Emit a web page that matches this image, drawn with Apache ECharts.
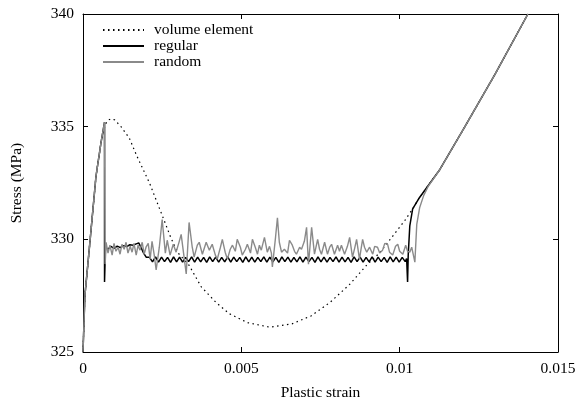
<!DOCTYPE html>
<html>
<head>
<meta charset="utf-8">
<script src="https://cdn.jsdelivr.net/npm/echarts@6/dist/echarts.min.js"></script>
<style>
  html, body { margin: 0; padding: 0; background: #fff; }
  #chart { width: 583px; height: 406px; }
</style>
</head>
<body>
<div id="chart"></div>
<script>
// stress / plastic strain curves
var xTicks = [0, 0.005, 0.01, 0.015];
var yTicks = [325, 330, 335, 340];
var seriesNames = ['volume element', 'regular', 'random'];

// volume element (dotted)
var volumeStrain = [0, 0.00006, 0.00022, 0.00041, 0.00057, 0.0007, 0.0008, 0.0009, 0.001, 0.0012,
  0.00146, 0.0017, 0.0021, 0.00256, 0.00278, 0.0030, 0.00335, 0.00373, 0.0042, 0.00462,
  0.0052, 0.0059, 0.0066, 0.0072, 0.0078, 0.00842, 0.00896, 0.00937, 0.01016, 0.01041, 0.0106];
var volumeStress = [325, 327.5, 329.9, 332.8, 334.3, 335.1, 335.3, 335.35, 335.3, 335.0,
  334.5, 333.7, 332.5, 330.85, 330.05, 329.4, 328.85, 327.9, 327.2, 326.7,
  326.3, 326.1, 326.25, 326.6, 327.2, 328.0, 328.86, 329.4, 330.83, 331.35, 331.8];

// shared elastic rise
var riseStrain = [0, 0.00006, 0.00022, 0.00041, 0.00057, 0.00068];
var riseStress = [325, 327.5, 329.9, 332.8, 334.3, 335.2];

// shared hardening branch
var hardStrain = [0.01127, 0.01206, 0.0130, 0.01405];
var hardStress = [333.1, 335.0, 337.3, 340.0];

// regular: drop, plateau, zigzag, drop, hardening
var regularHeadStrain = [0.00068, 0.00071, 0.00079, 0.00088, 0.00098, 0.00108, 0.00118, 0.00128, 0.00138,
  0.00148, 0.00158, 0.00168, 0.00176, 0.00183, 0.00191, 0.002];
var regularHeadStress = [328.11, 329.65, 329.56, 329.69, 329.6, 329.7, 329.63, 329.72, 329.68,
  329.76, 329.74, 329.8, 329.84, 329.65, 329.4, 329.2];
var zigStart = 0.0021, zigStep = 0.000095;
var regularZig = [
  329.20, 329.00, 329.22, 328.99, 329.21, 329.01, 329.20, 328.98, 329.22, 329.00,
  329.21, 328.99, 329.20, 329.01, 329.22, 328.99, 329.21, 329.00, 329.20, 328.98,
  329.22, 329.01, 329.21, 328.99, 329.20, 329.00, 329.22, 328.99, 329.21, 329.01,
  329.20, 328.98, 329.22, 329.00, 329.21, 328.99, 329.20, 329.01, 329.22, 328.99,
  329.21, 329.00, 329.20, 328.98, 329.22, 329.01, 329.21, 328.99, 329.20, 329.00,
  329.22, 328.99, 329.21, 329.01, 329.20, 328.98, 329.22, 329.00, 329.21, 328.99,
  329.20, 329.01, 329.22, 328.99, 329.21, 329.00, 329.20, 328.98, 329.22, 329.01,
  329.21, 328.99, 329.20, 329.00, 329.22, 328.99, 329.21, 329.01, 329.20, 328.98,
  329.22, 329.00, 329.21, 328.99, 329.20, 329.01];
var regularTailStrain = [0.01022, 0.01025, 0.01027, 0.01032, 0.01041, 0.0106];
var regularTailStress = [329.15, 328.11, 329.3, 330.6, 331.35, 331.8];

// random: noisy plateau
var randomStrain = [0.0007, 0.0007,
  0.00073, 0.00079, 0.00085, 0.00092, 0.00098, 0.00104, 0.00111, 0.00117, 0.00123, 0.0013,
  0.00136, 0.00142, 0.00149, 0.00155, 0.00161, 0.00168, 0.00174, 0.0018, 0.00187, 0.00193,
  0.00199, 0.00206, 0.00212, 0.00218, 0.00225, 0.00231, 0.00241, 0.0025, 0.0026, 0.00266,
  0.00275, 0.00285, 0.00294, 0.00304, 0.0031, 0.0032, 0.00326, 0.00335, 0.00345, 0.00351,
  0.00361, 0.00367, 0.00377, 0.00389, 0.00399, 0.00408, 0.00418, 0.00424, 0.00434, 0.0044,
  0.00449, 0.00456, 0.00465, 0.00472, 0.00481, 0.00487, 0.00497, 0.00503, 0.00513, 0.00519,
  0.00529, 0.00535, 0.00544, 0.00551, 0.00557, 0.00563, 0.00573, 0.00582, 0.00589, 0.00595,
  0.00598, 0.00608, 0.00614, 0.0062, 0.00627, 0.00636, 0.00646, 0.00652, 0.00661, 0.00668,
  0.00674, 0.00684, 0.0069, 0.00699, 0.00706, 0.00712, 0.00722, 0.00731, 0.00741, 0.00747,
  0.00753, 0.00763, 0.00772, 0.00779, 0.00785, 0.00794, 0.00804, 0.0081, 0.00816, 0.00826,
  0.00835, 0.00842, 0.00851, 0.00858, 0.00864, 0.00873, 0.00883, 0.00889, 0.00896, 0.00905,
  0.00915, 0.00921, 0.0093, 0.00937, 0.00946, 0.00953, 0.00962, 0.00968, 0.00978, 0.00987,
  0.00994, 0.01, 0.0101, 0.01019, 0.01025, 0.01032, 0.01038, 0.01048, 0.01054, 0.01063,
  0.01076, 0.0109];
var randomStress = [335.15, 328.9,
  329.87, 329.39, 329.74, 329.3, 329.82, 329.47, 329.65, 329.34, 329.78, 329.56,
  329.87, 329.39, 329.69, 329.43, 329.82, 329.3, 329.74, 329.52, 329.87, 329.34,
  329.65, 329.82, 329.12, 329.91, 329.3, 328.64, 329.65, 330.88, 329.39, 329.96,
  329.3, 329.78, 329.43, 329.91, 330.22, 329.12, 328.46, 330.75, 329.65, 329.21,
  329.74, 329.87, 329.34, 329.87, 329.52, 329.78, 329.3, 329.12, 329.65, 330.0,
  329.43, 329.12, 329.56, 329.74, 329.47, 330.0, 329.65, 329.3, 329.56, 329.78,
  329.39, 330.0, 329.65, 329.34, 329.74, 329.52, 330.09, 329.43, 329.69, 329.39,
  328.77, 330.09, 330.96, 329.87, 329.43, 329.56, 329.39, 329.96, 329.74, 329.47,
  329.34, 329.65, 329.56, 329.91, 330.53, 328.9, 330.53, 329.34, 330.0, 329.56,
  329.34, 329.87, 329.34, 329.65, 329.78, 329.34, 329.74, 329.47, 329.74, 329.34,
  329.69, 330.09, 329.21, 329.61, 330.0, 329.12, 330.0, 329.65, 329.43, 329.65,
  329.34, 329.69, 329.65, 329.39, 329.52, 329.82, 329.78, 329.43, 329.3, 329.69,
  329.78, 329.47, 329.34, 329.74, 329.47, 329.43, 329.65, 328.99, 330.66, 331.4,
  331.95, 332.35];

function pairs(xs, ys) {
  var res = [];
  for (var i = 0; i < xs.length; i++) res.push([xs[i], ys[i]]);
  return res;
}

var volumeData = pairs(volumeStrain, volumeStress).concat(pairs(hardStrain, hardStress));

var regularData = pairs(riseStrain, riseStress).concat(pairs(regularHeadStrain, regularHeadStress));
for (var i = 0; i < regularZig.length; i++) {
  regularData.push([zigStart + i * zigStep, regularZig[i]]);
}
regularData = regularData.concat(pairs(regularTailStrain, regularTailStress), pairs(hardStrain, hardStress));

var randomData = pairs(riseStrain, riseStress).concat(pairs(randomStrain, randomStress), pairs(hardStrain, hardStress));

var font = "'Liberation Serif', 'Times New Roman', serif";

function axisBase(extra) {
  var a = {
    type: 'value',
    splitLine: { show: false },
    axisLine: { show: true, onZero: false, lineStyle: { color: '#000', width: 1 } },
    axisTick: { show: true, inside: true, length: 5, lineStyle: { color: '#000', width: 1 } },
    axisLabel: { show: false }
  };
  for (var k in extra) a[k] = extra[k];
  return a;
}

var chart = echarts.init(document.getElementById('chart'), null, { renderer: 'canvas' });

chart.setOption({
  animation: false,
  backgroundColor: '#fff',
  grid: { left: 83, right: 25, top: 14, bottom: 50 },
  legend: {
    data: seriesNames,
    orient: 'vertical',
    left: 102,
    top: 22,
    padding: 0,
    itemWidth: 41,
    itemHeight: 14,
    itemGap: 0,
    selectedMode: false,
    itemStyle: { opacity: 0 },
    textStyle: { fontFamily: font, fontSize: 15.5, lineHeight: 16, color: '#000', padding: [0, 0, 0, 5] }
  },
  xAxis: [
    axisBase({
      position: 'bottom', min: xTicks[0], max: xTicks[xTicks.length - 1], interval: 0.005,
      name: 'Plastic strain', nameLocation: 'middle', nameGap: 33,
      nameTextStyle: { fontFamily: font, fontSize: 15.5, color: '#000' },
      axisLabel: { show: true, margin: 9, fontFamily: font, fontSize: 15.5, color: '#000' }
    }),
    axisBase({ position: 'top', min: xTicks[0], max: xTicks[xTicks.length - 1], interval: 0.005 })
  ],
  yAxis: [
    axisBase({
      position: 'left', min: yTicks[0], max: yTicks[yTicks.length - 1], interval: 5,
      name: 'Stress (MPa)', nameLocation: 'middle', nameGap: 58,
      nameTextStyle: { fontFamily: font, fontSize: 15.5, color: '#000' },
      axisLabel: { show: true, margin: 9, fontFamily: font, fontSize: 15.5, color: '#000' }
    }),
    axisBase({ position: 'right', min: yTicks[0], max: yTicks[yTicks.length - 1], interval: 5 })
  ],
  series: [
    {
      name: seriesNames[0], type: 'line', data: volumeData, symbol: 'none', clip: true,
      lineStyle: { color: '#000', width: 1.2, type: [1.5, 3.5] },
      itemStyle: { color: '#000' }
    },
    {
      name: seriesNames[1], type: 'line', data: regularData, symbol: 'none', clip: true,
      lineStyle: { color: '#000', width: 1.5 },
      itemStyle: { color: '#000' }
    },
    {
      name: seriesNames[2], type: 'line', data: randomData, symbol: 'none', clip: true,
      lineStyle: { color: '#8a8a8a', width: 1.4 },
      itemStyle: { color: '#8a8a8a' }
    }
  ]
});
</script>
</body>
</html>
